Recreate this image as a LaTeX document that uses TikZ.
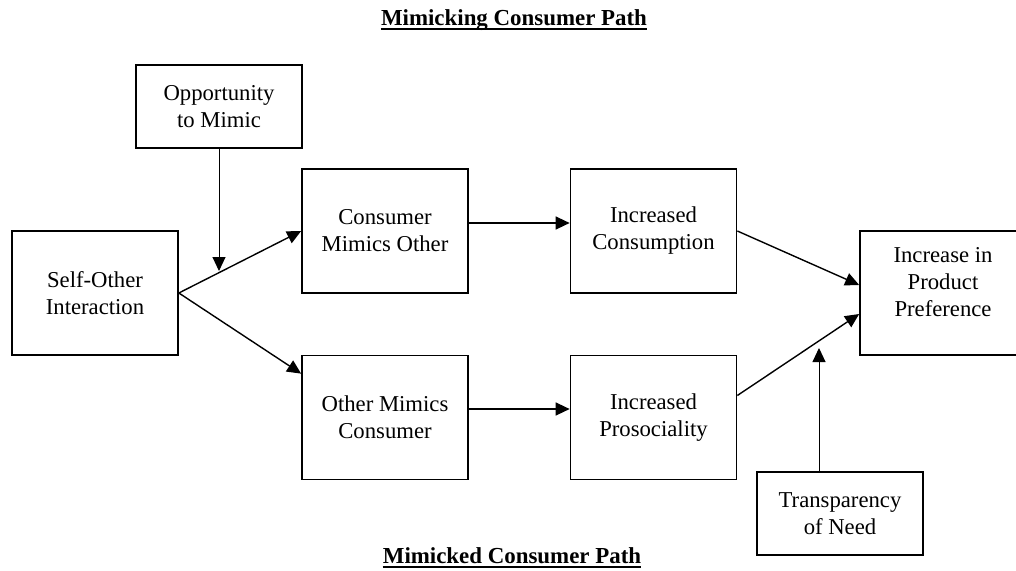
\documentclass[tikz,border=0pt]{standalone}
\usepackage{fontspec}
\setmainfont{Liberation Serif}
\usetikzlibrary{arrows.meta,calc}
\begin{document}
\begin{tikzpicture}[x=1pt,y=-1pt,
  box/.style={draw,line width=1.7pt,minimum width=166pt,minimum height=124pt,inner sep=0pt,align=center,font=\fontsize{22.7}{27}\selectfont},
  smallbox/.style={box,minimum height=83pt},
  txt/.style={inner sep=0pt,align=center,font=\fontsize{22.7}{27}\selectfont},
  arr/.style={line width=1.4pt,-{Triangle[length=14pt,width=13pt]}},
  thinarr/.style={arr,line width=1pt},
  ttl/.style={inner sep=0pt,font=\fontsize{22.9}{27}\selectfont\bfseries},
  ul/.style={line width=1.6pt}]
\useasboundingbox (0,0) rectangle (1016,570);

\node[ttl,anchor=base] (t1) at (514,25) {Mimicking Consumer Path};
\draw[ul] ($(t1.base west)+(0,4)$) -- ($(t1.base east)+(0,4)$);
\node[ttl,anchor=base] (t2) at (512,563) {Mimicked Consumer Path};
\draw[ul] ($(t2.base west)+(0,4)$) -- ($(t2.base east)+(0,4)$);

\node[smallbox] (opp) at (219,106.5) {Opportunity\\to Mimic};
\node[box] (self) at (95,293) {Self-Other\\Interaction};
\node[box] (cmo) at (385,231) {Consumer\\Mimics Other};
\node[box] (omc) at (385,417.5) {Other Mimics\\Consumer};
\node[box] (ic) at (653.5,231) {Increased\\Consumption};
\node[box] (ip) at (653.5,417.5) {Increased\\Prosociality};
\node[box] (pref) at (943,293) {};
\node[txt] (preft) at (943,282) {Increase in\\Product\\Preference};
\node[smallbox] (tn) at (840,513.5) {Transparency\\of Need};

\draw[arr] (self.east) -- (cmo.west);
\draw[arr] (self.east) -- ([yshift=-19pt]omc.north west);
\coordinate (m1) at (219,271);
\draw[thinarr] (opp.south) -- (m1);
\draw[arr] ([yshift=8pt]cmo.east) -- ([yshift=8pt]ic.west);
\draw[arr] ([yshift=8.5pt]omc.east) -- ([yshift=8.5pt]ip.west);
\draw[arr] (ic.east) -- ([yshift=8pt]pref.west);
\draw[arr] ([yshift=22pt]ip.east) -- ([yshift=-21pt]pref.west);
\coordinate (m2) at (819,348);
\draw[thinarr] ([xshift=-21pt]tn.north) -- (m2);
\end{tikzpicture}
\end{document}
